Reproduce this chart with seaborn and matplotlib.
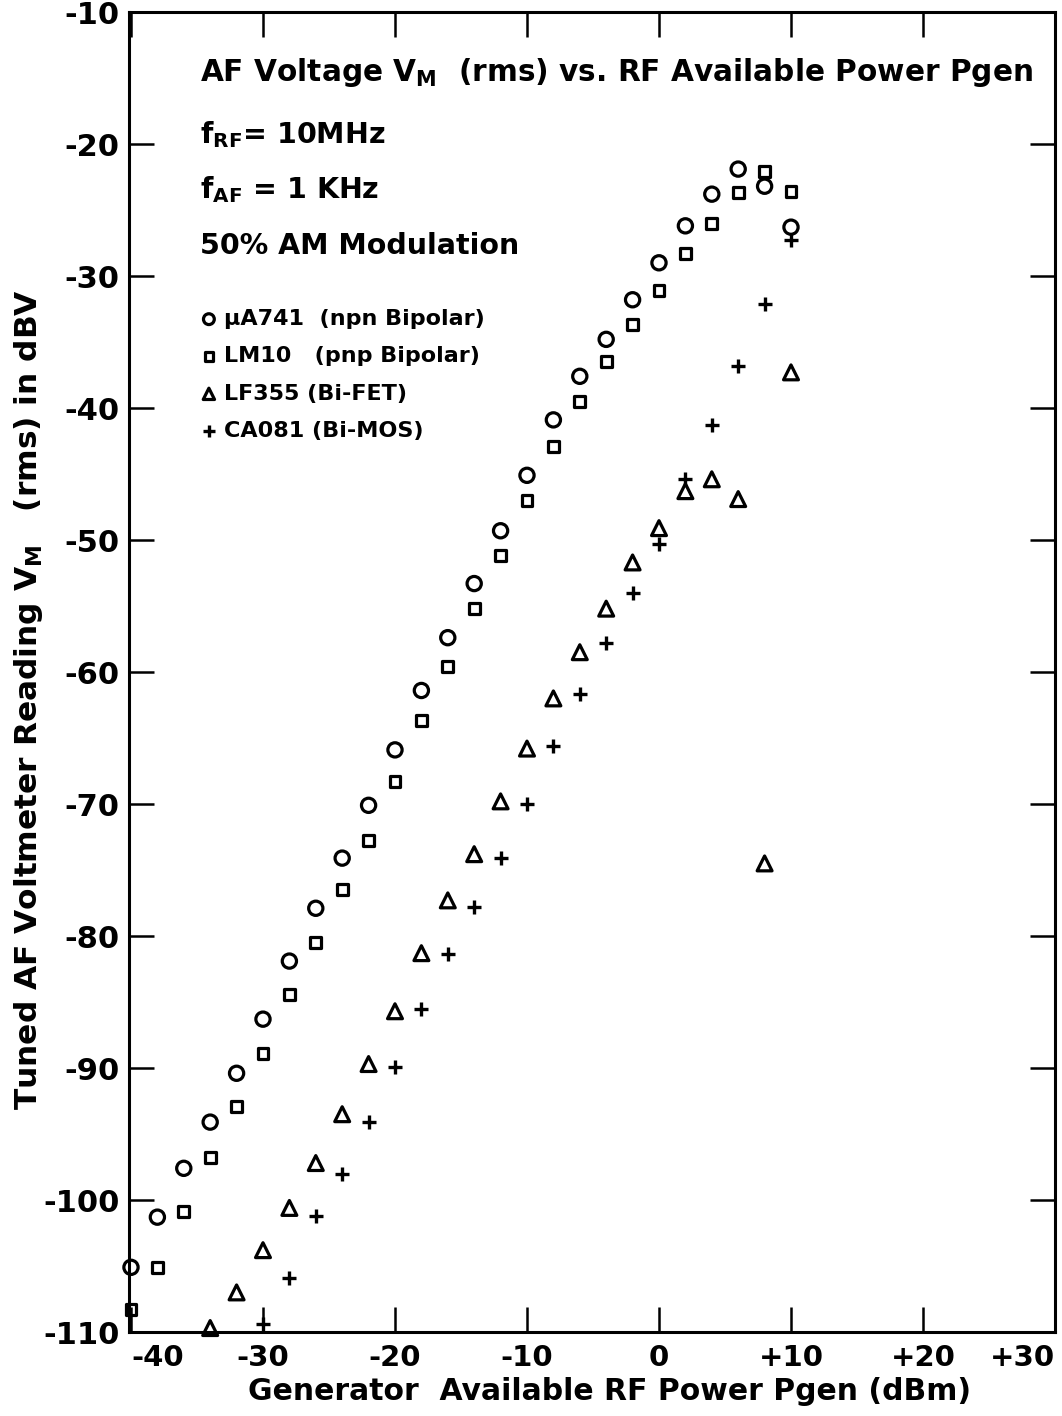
import matplotlib
matplotlib.use("Agg")
import matplotlib.pyplot as plt
import pandas as pd
import seaborn as sns

# Generator available RF power (dBm) and tuned AF voltmeter reading (dBV)
pgen_ua741 = list(range(-40, 11, 2))
vm_ua741 = [-105.1, -101.3, -97.6, -94.1, -90.4, -86.3, -81.9, -77.9, -74.1,
            -70.1, -65.9, -61.4, -57.4, -53.3, -49.3, -45.1, -40.9, -37.6,
            -34.8, -31.8, -29.0, -26.2, -23.8, -21.9, -23.2, -26.3]

pgen_lm10 = list(range(-40, 11, 2))
vm_lm10 = [-108.3, -105.1, -100.9, -96.8, -92.9, -88.9, -84.4, -80.5, -76.5,
           -72.8, -68.3, -63.7, -59.6, -55.2, -51.2, -47.0, -42.9, -39.5,
           -36.5, -33.7, -31.1, -28.3, -26.0, -23.7, -22.1, -23.6]

pgen_lf355 = list(range(-34, 11, 2))
vm_lf355 = [-109.7, -107.0, -103.8, -100.6, -97.2, -93.5, -89.7, -85.7, -81.3,
            -77.3, -73.8, -69.8, -65.8, -62.0, -58.5, -55.2, -51.7, -49.1,
            -46.3, -45.4, -46.9, -74.5, -37.3]

pgen_ca081 = list(range(-30, 11, 2))
vm_ca081 = [-109.4, -105.9, -101.2, -98.0, -94.1, -89.9, -85.5, -81.4, -77.8,
            -74.1, -70.0, -65.6, -61.7, -57.8, -54.0, -50.3, -45.4, -41.3,
            -36.8, -32.1, -27.3]

labels = ["\u03bcA741  (npn Bipolar)", "LM10   (pnp Bipolar)",
          "LF355 (Bi-FET)", "CA081 (Bi-MOS)"]

x_ticks = [-40, -30, -20, -10, 0, 10, 20, 30]
x_ticklabels = ["-40", "-30", "-20", "-10", "0", "+10", "+20", "+30"]
y_ticks = [-10, -20, -30, -40, -50, -60, -70, -80, -90, -100, -110]
y_ticklabels = ["-10", "-20", "-30", "-40", "-50", "-60", "-70", "-80",
                "-90", "-100", "-110"]

sns.set_theme(style="ticks")
plt.rcParams["font.family"] = ["DejaVu Sans"]
plt.rcParams["font.weight"] = "bold"
plt.rcParams["mathtext.default"] = "bf"
for key in ["text.color", "axes.labelcolor", "xtick.color", "ytick.color",
            "axes.edgecolor"]:
    plt.rcParams[key] = "black"

fig = plt.figure(figsize=(10.62, 14.16), dpi=100)
ax = fig.add_axes([129 / 1062, 84 / 1416, 926 / 1062, 1320 / 1416])

series = [
    (pgen_ua741, vm_ua741, labels[0], "o", dict(s=105, facecolor="none", edgecolor="black", linewidth=2.3)),
    (pgen_lm10, vm_lm10, labels[1], "s", dict(s=62, facecolor="none", edgecolor="black", linewidth=2.3)),
    (pgen_lf355, vm_lf355, labels[2], "^", dict(s=115, facecolor="none", edgecolor="black", linewidth=2.3)),
    (pgen_ca081, vm_ca081, labels[3], "+", dict(s=110, color="black", linewidth=2.4)),
]
for xs, ys, lab, mk, kw in series:
    df = pd.DataFrame({"pgen": xs, "vm": ys})
    sns.scatterplot(data=df, x="pgen", y="vm", marker=mk, label=lab,
                    clip_on=False, zorder=3, ax=ax, **kw)

ax.set_xlim(-40.15, 29.85)
ax.set_ylim(-110, -10)

ax.set_xticks(x_ticks)
ax.set_xticklabels(x_ticklabels)
ax.set_yticks(y_ticks)
ax.set_yticklabels(y_ticklabels)
ax.tick_params(axis="x", direction="in", length=18, width=1.8, top=True,
               bottom=True, labelsize=21, pad=9, colors="black")
ax.tick_params(axis="y", direction="in", length=18, width=1.8, left=True,
               right=True, labelsize=22, pad=7, colors="black")
xl = ax.get_xticklabels()
xl[0].set_ha("left")
xl[-1].set_ha("right")

for sp in ax.spines.values():
    sp.set_visible(True)
    sp.set_linewidth(2.2)
    sp.set_color("black")

ax.set_xlabel("Generator  Available RF Power Pgen (dBm)", fontsize=21.5,
              fontweight="bold")
ax.xaxis.set_label_coords(0.519, -0.034)
ax.set_ylabel("Tuned AF Voltmeter Reading $V_M$   (rms) in dBV", fontsize=22.5,
              fontweight="bold")
ax.yaxis.set_label_coords(-0.091, 0.479)

# Annotation block in the upper left of the plot
def px_to_axes(px, py):
    return (px - 129) / 926, (1332 - py) / 1320

for txt, (px, py), fs in [
    ("AF Voltage $V_M$  (rms) vs. RF Available Power Pgen", (200, 72), 21.3),
    ("f$_{RF}$= 10MHz", (200, 135), 20.5),
    ("f$_{AF}$ = 1 KHz", (200, 190), 20.5),
    ("50% AM Modulation", (200, 246), 20.5),
]:
    ax.text(*px_to_axes(px, py), txt, transform=ax.transAxes, fontsize=fs,
            fontweight="bold", ha="left", va="center")

leg = ax.legend(loc="upper left", bbox_to_anchor=px_to_axes(200, 309),
                frameon=False, fontsize=16, handlelength=0.8,
                handletextpad=0.3, labelspacing=0.78, borderpad=0,
                borderaxespad=0, markerscale=0.76)
for t in leg.get_texts():
    t.set_fontweight("bold")
    t.set_color("black")

fig.savefig("out.png", dpi=100, facecolor="white")
